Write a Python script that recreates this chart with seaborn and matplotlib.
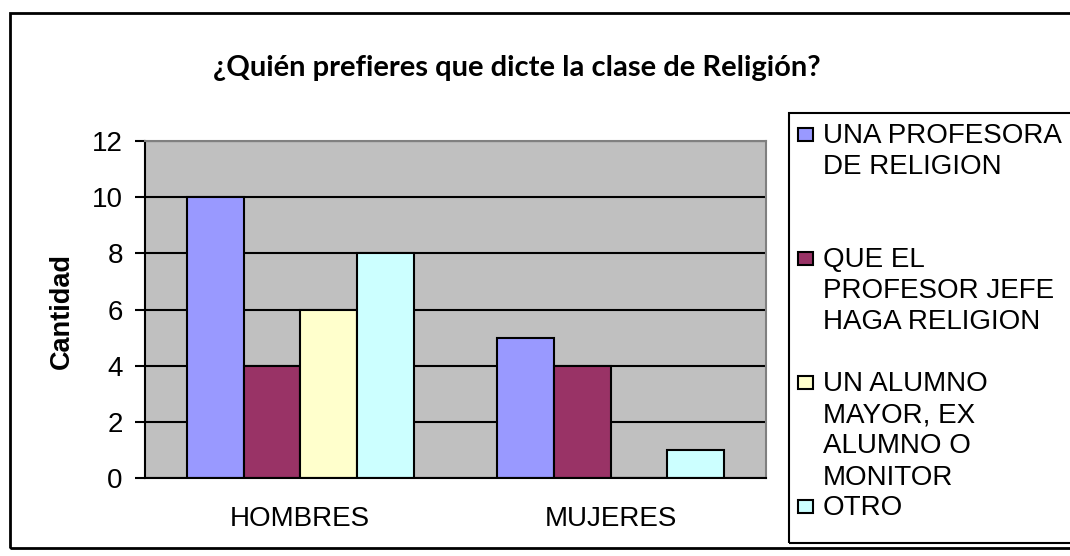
import numpy as np
import pandas as pd
import matplotlib
matplotlib.use("Agg")
import matplotlib.pyplot as plt
from matplotlib.patches import Rectangle
import seaborn as sns

# Survey answers by group
groups = ["HOMBRES", "MUJERES"]
options = [
    "UNA PROFESORA DE RELIGION",
    "QUE EL PROFESOR JEFE HAGA RELIGION",
    "UN ALUMNO MAYOR, EX ALUMNO O MONITOR",
    "OTRO",
]
legend_labels = [
    "UNA PROFESORA\nDE RELIGION",
    "QUE EL\nPROFESOR JEFE\nHAGA RELIGION",
    "UN ALUMNO\nMAYOR, EX\nALUMNO O\nMONITOR",
    "OTRO",
]
hombres = [10, 4, 6, 8]
mujeres = [5, 4, 0, 1]
colors = ["#9999FF", "#993366", "#FFFFCC", "#CCFFFF"]
yticks = [0, 2, 4, 6, 8, 10, 12]

title = "¿Quién prefieres que dicte la clase de Religión?"
ylabel = "Cantidad"

df = pd.DataFrame({
    "grupo": [g for g in groups for _ in options],
    "opcion": options * len(groups),
    "cantidad": hombres + mujeres,
})

sns.set_theme(style="white")
plt.rcParams["font.family"] = ["Liberation Sans", "DejaVu Sans"]
plt.rcParams["text.color"] = "black"
plt.rcParams["axes.labelcolor"] = "black"
plt.rcParams["xtick.color"] = "black"
plt.rcParams["ytick.color"] = "black"

W, H = 1070, 556
fig = plt.figure(figsize=(W / 100, H / 100), dpi=100)

def px_box(x0, y0, x1, y1):
    return [x0 / W, 1 - y1 / H, (x1 - x0) / W, (y1 - y0) / H]

ax = fig.add_axes(px_box(145, 141, 766, 478))
sns.barplot(data=df, x="grupo", y="cantidad", hue="opcion", order=groups,
            hue_order=options, palette=colors, saturation=1, width=0.73,
            edgecolor="black", linewidth=1.5, legend=False, ax=ax)

ax.set_facecolor("#C0C0C0")
ax.set_xlim(-0.5, 1.5)
ax.set_ylim(0, 12)
ax.set_yticks(yticks)
ax.yaxis.grid(True, color="black", linewidth=1.5)
ax.set_axisbelow(True)
for side in ["top", "right"]:
    ax.spines[side].set_color("#808080")
    ax.spines[side].set_linewidth(1.5)
for side in ["left", "bottom"]:
    ax.spines[side].set_color("black")
    ax.spines[side].set_linewidth(1.5)

ax.set_xlabel("")
ax.set_ylabel("")
ax.set_xticks([0, 1])
ax.set_xticklabels(groups)
ax.set_xticks([-0.5, 0.5, 1.5], minor=True)
ax.tick_params(axis="x", which="major", length=0, pad=20, labelsize=20)
ax.tick_params(axis="x", which="minor", length=7, width=1.5, direction="out")
ax.tick_params(axis="y", length=7, width=1.5, direction="out", pad=9, labelsize=20,
               left=True)

# Title and axis label
fig.text(517 / W, 1 - 68 / H, title, ha="center", va="center",
         fontsize=21, fontweight="bold", family=["Lato", "DejaVu Sans"])
fig.text(62 / W, 1 - 311 / H, ylabel, ha="center", va="center", rotation=90,
         fontsize=19.5, fontweight="bold")

# Outer chart border
fig.patches.append(Rectangle((10 / W, 1 - 548 / H), (1080 - 10) / W, (548 - 13) / H,
                             transform=fig.transFigure, fill=False,
                             edgecolor="black", linewidth=2, clip_on=False))

# Legend box with entries
fig.patches.append(Rectangle((789 / W, 1 - 543 / H), (1080 - 789) / W, (543 - 113) / H,
                             transform=fig.transFigure, fill=False,
                             edgecolor="black", linewidth=1.5, clip_on=False))
entry_y = [135, 259, 383, 507]
for lab, col, yc in zip(legend_labels, colors, entry_y):
    fig.patches.append(Rectangle((798 / W, 1 - (yc + 6) / H), 15 / W, 13 / H,
                                 transform=fig.transFigure, facecolor=col,
                                 edgecolor="black", linewidth=1.5))
    fig.text(823 / W, 1 - (yc - 12) / H, lab, ha="left", va="top",
             fontsize=20, linespacing=1.26)

fig.savefig("out.png", dpi=100)
